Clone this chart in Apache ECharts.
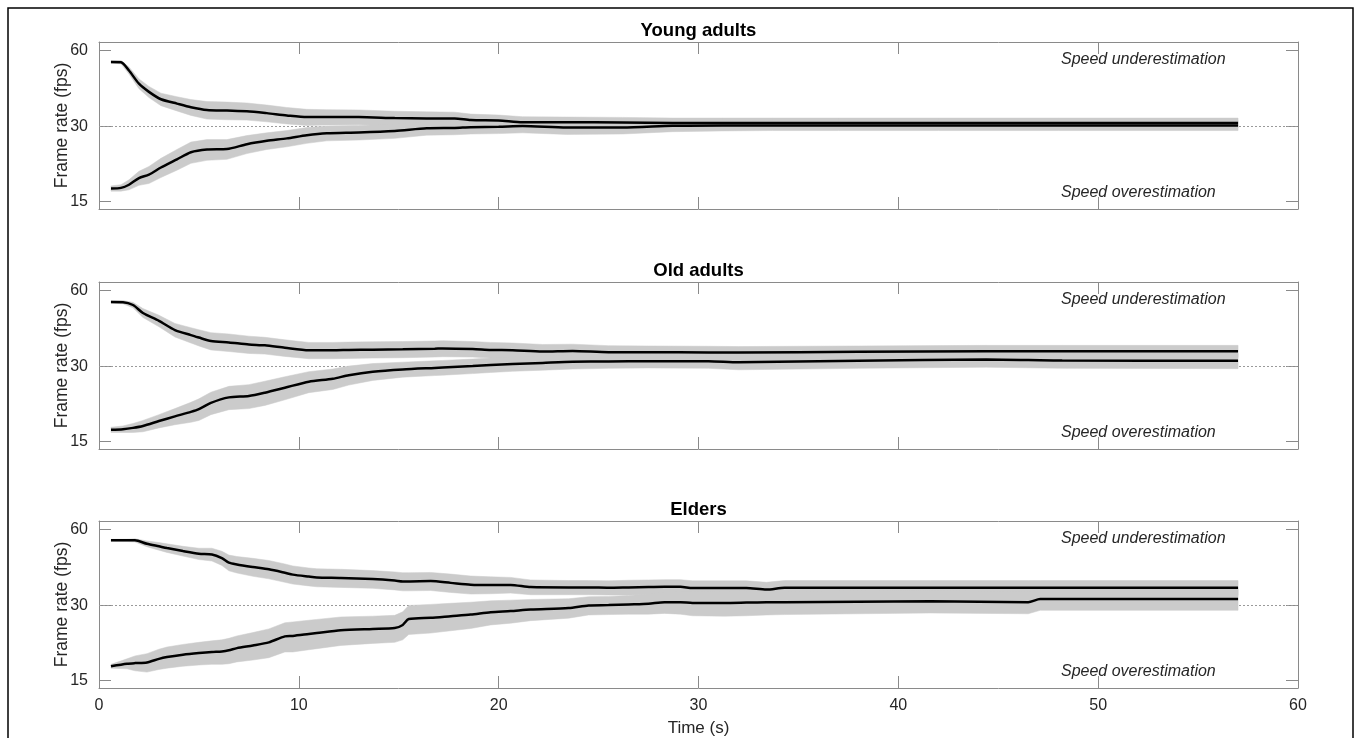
<!DOCTYPE html>
<html><head><meta charset="utf-8">
<script src="https://cdn.jsdelivr.net/npm/echarts@6/dist/echarts.min.js"></script>
<style>html,body{margin:0;padding:0;background:#fff}#c{width:1354px;height:738px}</style>
</head><body><div id="c"></div>
<script>
// ---- data ----
const panelTitles = ['Young adults', 'Old adults', 'Elders'];
const xTicks = [0, 10, 20, 30, 40, 50, 60];
const yTicks = [15, 30, 60];
const refRate = 30;

// Young adults
const timeYoung = [0.6, 1.1, 1.5, 2.0, 2.5, 3.1, 3.9, 4.6, 5.4, 6.4, 7.4, 8.4, 9.4, 10.4, 11.4, 13.0, 14.8, 16.4, 17.8, 18.6, 20.0, 21.2, 23.4, 26.2, 28.7, 31.2, 33.7, 37.0, 42.0, 48.0, 57.0];
const youngHigh = [54.1, 54.0, 50.0, 44.3, 41.1, 38.4, 36.9, 35.7, 34.8, 34.6, 34.4, 33.8, 33.1, 32.6, 32.6, 32.6, 32.3, 32.2, 32.2, 31.7, 31.6, 31.1, 31.1, 31.0, 30.9, 30.9, 30.9, 30.9, 30.9, 30.9, 30.9];
const youngHighSE = [0.6, 0.8, 1.6, 2.0, 2.1, 2.2, 2.4, 2.6, 2.8, 2.8, 2.7, 2.6, 2.5, 2.4, 2.3, 2.2, 2.1, 2.0, 1.9, 1.8, 1.6, 1.6, 1.5, 1.5, 1.4, 1.4, 1.4, 1.4, 1.4, 1.4, 1.4];
const youngLow = [16.9, 17.0, 17.5, 18.6, 19.2, 20.5, 22.1, 23.6, 24.2, 24.3, 25.4, 26.2, 26.8, 27.6, 28.1, 28.3, 28.7, 29.4, 29.5, 29.7, 29.8, 30.0, 29.6, 29.6, 30.1, 30.2, 30.2, 30.2, 30.2, 30.2, 30.2];
const youngLowSE = [0.4, 0.5, 0.8, 1.2, 1.5, 1.8, 2.1, 2.3, 2.3, 2.2, 2.1, 2.0, 2.0, 2.0, 1.9, 1.9, 1.9, 1.8, 1.8, 1.8, 1.8, 1.8, 1.8, 1.7, 1.6, 1.5, 1.4, 1.4, 1.4, 1.4, 1.4];

// Old adults
const timeOld = [0.6, 1.2, 1.7, 2.2, 3.0, 3.8, 4.6, 5.0, 5.6, 6.5, 7.5, 8.3, 9.3, 10.5, 11.7, 12.5, 13.7, 15.2, 16.8, 17.2, 18.7, 19.6, 20.7, 22.2, 23.7, 25.5, 27.5, 30.5, 32.0, 38.0, 44.4, 48.2, 57.0];
const oldHigh = [54.1, 54.0, 52.6, 48.9, 45.5, 41.8, 39.9, 39.0, 37.8, 37.3, 36.6, 36.3, 35.5, 34.7, 34.7, 34.8, 34.9, 35.0, 35.2, 35.3, 35.1, 34.8, 34.7, 34.3, 34.5, 34.1, 34.1, 34.0, 34.0, 34.2, 34.4, 34.4, 34.4];
const oldHighSE = [0.6, 0.8, 1.3, 2.0, 2.4, 2.6, 2.8, 2.9, 3.0, 3.0, 2.9, 2.8, 2.7, 2.6, 2.6, 2.6, 2.6, 2.6, 2.6, 2.6, 2.5, 2.5, 2.4, 2.3, 2.2, 2.1, 2.0, 2.0, 1.9, 1.9, 1.9, 1.9, 1.9];
const oldLow = [16.7, 16.8, 17.0, 17.3, 18.1, 18.9, 19.7, 20.2, 21.4, 22.5, 22.8, 23.5, 24.6, 26.0, 26.7, 27.6, 28.5, 29.1, 29.5, 29.6, 30.0, 30.3, 30.6, 30.9, 31.2, 31.3, 31.4, 31.4, 31.1, 31.5, 31.9, 31.6, 31.5];
const oldLowSE = [0.4, 0.5, 0.7, 0.9, 1.1, 1.4, 1.8, 2.0, 2.2, 2.4, 2.5, 2.6, 2.6, 2.5, 2.5, 2.4, 2.2, 2.0, 2.0, 2.0, 2.0, 2.0, 2.0, 2.0, 2.0, 1.9, 1.9, 2.0, 2.1, 2.1, 2.2, 2.2, 2.2];

// Elders
const timeElders = [0.6, 1.4, 1.8, 2.4, 3.0, 3.4, 4.2, 5.0, 5.65, 6.15, 6.5, 6.9, 7.7, 8.5, 9.3, 9.7, 10.5, 10.9, 12.1, 13.7, 14.8, 15.2, 15.5, 16.6, 17.6, 18.6, 19.6, 20.6, 21.6, 23.5, 24.5, 25.5, 26.5, 27.5, 28.3, 29.1, 29.7, 31.3, 32.4, 33.4, 34.3, 41.6, 46.5, 47.1, 57.0];
const eldersHigh = [54.4, 54.4, 54.4, 52.7, 51.5, 50.7, 49.3, 48.1, 47.8, 46.2, 44.3, 43.6, 42.6, 41.7, 40.4, 39.7, 39.0, 38.7, 38.5, 38.1, 37.6, 37.3, 37.3, 37.4, 36.8, 36.2, 36.1, 36.1, 35.4, 35.3, 35.3, 35.2, 35.3, 35.4, 35.5, 35.5, 35.1, 35.1, 35.1, 34.6, 35.2, 35.2, 35.2, 35.2, 35.2];
const eldersHighSE = [0.5, 0.6, 0.8, 1.4, 1.8, 2.0, 2.2, 2.5, 2.8, 3.0, 3.2, 3.3, 3.5, 3.5, 3.4, 3.3, 3.2, 3.2, 3.2, 3.1, 3.1, 3.1, 3.1, 3.1, 3.1, 3.0, 2.8, 2.6, 2.4, 2.3, 2.3, 2.3, 2.4, 2.4, 2.4, 2.4, 2.4, 2.4, 2.4, 2.4, 2.4, 2.4, 2.4, 2.4, 2.4];
const eldersLow = [17.1, 17.5, 17.6, 17.7, 18.3, 18.6, 19.0, 19.3, 19.5, 19.6, 19.8, 20.2, 20.7, 21.3, 22.5, 22.6, 23.0, 23.2, 23.8, 24.1, 24.3, 25.0, 26.4, 26.7, 27.1, 27.5, 28.1, 28.4, 28.8, 29.2, 29.9, 30.0, 30.2, 30.4, 30.8, 30.8, 30.6, 30.6, 30.7, 30.8, 30.8, 31.1, 30.8, 31.7, 31.7];
const eldersLowSE = [0.3, 0.8, 1.2, 1.5, 1.7, 1.8, 1.9, 2.0, 2.1, 2.2, 2.3, 2.4, 2.6, 2.8, 3.0, 3.1, 3.1, 3.1, 3.1, 3.0, 3.0, 3.2, 3.5, 3.5, 3.4, 3.3, 3.1, 3.0, 2.8, 2.6, 2.5, 2.5, 2.6, 2.8, 3.0, 3.2, 3.4, 3.5, 3.5, 3.4, 3.3, 3.2, 3.1, 3.1, 3.1];

const panels = [
  {t: timeYoung, hi: youngHigh, hiSE: youngHighSE, lo: youngLow, loSE: youngLowSE},
  {t: timeOld, hi: oldHigh, hiSE: oldHighSE, lo: oldLow, loSE: oldLowSE},
  {t: timeElders, hi: eldersHigh, hiSE: eldersHighSE, lo: eldersLow, loSE: eldersLowSE}
];

// ---- style ----
const FONT = '"Liberation Sans", Arial, Helvetica, sans-serif';
const axisGray = '#8a8a8a';
const textCol = '#262626';
const bandCol = '#cbcbcb';
const gridTops = [42, 282, 521];
const gridLeft = 99, gridWidth = 1199, gridHeight = 167;

const chart = echarts.init(document.getElementById('c'), null, {renderer: 'canvas'});

const grid = [], xAxis = [], yAxis = [], series = [], graphic = [];

function bandSeries(gi, t, mean, se) {
  const data = t.map((x, k) => [x, mean[k] - se[k], mean[k] + se[k]]);
  return {
    type: 'custom', xAxisIndex: gi * 2, yAxisIndex: gi * 2, z: 2, silent: true,
    data: data, encode: {x: 0, y: [1, 2]},
    renderItem: function (params, api) {
      if (params.dataIndex !== 0) return null;
      const top = data.map(d => api.coord([d[0], d[2]]));
      const bot = data.map(d => api.coord([d[0], d[1]])).reverse();
      return {
        type: 'polygon',
        shape: {points: top.concat(bot)},
        style: {fill: bandCol, stroke: bandCol, lineWidth: 0.5}
      };
    }
  };
}

panels.forEach((p, gi) => {
  grid.push({left: gridLeft, top: gridTops[gi], width: gridWidth, height: gridHeight, containLabel: false});
  ['bottom', 'top'].forEach(pos => {
    const showLabel = pos === 'bottom' && gi === 2;
    xAxis.push({
      type: 'value', gridIndex: gi, position: pos, min: 0, max: 60, interval: 10,
      axisLine: {show: true, onZero: false, lineStyle: {color: axisGray, width: 1}},
      axisTick: {show: true, inside: true, length: 12, lineStyle: {color: axisGray, width: 1}},
      axisLabel: {show: showLabel, fontSize: 16, color: textCol, margin: 10, fontFamily: FONT,
        customValues: xTicks},
      splitLine: {show: false},
      name: showLabel ? 'Time (s)' : '', nameLocation: 'middle', nameGap: 32,
      nameTextStyle: {fontSize: 17, color: textCol, fontFamily: FONT}
    });
  });
  ['left', 'right'].forEach(pos => {
    const showLabel = pos === 'left';
    yAxis.push({
      type: 'log', logBase: 2, gridIndex: gi, position: pos, min: 14, max: 65,
      axisLine: {show: true, onZero: false, lineStyle: {color: axisGray, width: 1}},
      axisTick: {show: true, inside: true, length: 12, lineStyle: {color: axisGray, width: 1},
        customValues: yTicks},
      axisLabel: {show: showLabel, fontSize: 16, color: textCol, margin: 11, fontFamily: FONT,
        customValues: yTicks},
      splitLine: {show: false}, minorTick: {show: false},
      name: showLabel ? 'Frame rate (fps)' : '', nameLocation: 'middle', nameGap: 28,
      nameMoveOverlap: false,
      nameTextStyle: {fontSize: 17.5, color: textCol, fontFamily: FONT}
    });
  });
  // reference line at 30 fps
  series.push({
    type: 'line', xAxisIndex: gi * 2, yAxisIndex: gi * 2, data: [], z: 1, silent: true,
    markLine: {silent: true, z: 1, symbol: ['none', 'none'], label: {show: false},
      lineStyle: {color: '#9a9a9a', width: 1, type: [2, 2]},
      data: [{yAxis: refRate}]}
  });
  series.push(bandSeries(gi, p.t, p.hi, p.hiSE));
  series.push(bandSeries(gi, p.t, p.lo, p.loSE));
  [p.hi, p.lo].forEach(vals => {
    series.push({
      type: 'line', xAxisIndex: gi * 2, yAxisIndex: gi * 2, z: 3, silent: true,
      data: p.t.map((x, k) => [x, vals[k]]),
      showSymbol: false, smooth: 0.25,
      lineStyle: {color: '#000', width: 2.5}
    });
  });
  const cx = gridLeft + gridWidth / 2;
  graphic.push({type: 'text', x: cx, y: gridTops[gi] - 11,
    style: {text: panelTitles[gi], fill: '#000', font: 'bold 18.5px ' + FONT, align: 'center', verticalAlign: 'middle'}});
  graphic.push({type: 'text', x: 1061, y: gridTops[gi] + 18,
    style: {text: 'Speed underestimation', fill: textCol, font: 'italic 16px ' + FONT, align: 'left', verticalAlign: 'middle'}});
  graphic.push({type: 'text', x: 1061, y: gridTops[gi] + 151,
    style: {text: 'Speed overestimation', fill: textCol, font: 'italic 16px ' + FONT, align: 'left', verticalAlign: 'middle'}});
});

graphic.push({type: 'rect', z: 100, shape: {x: 8, y: 8, width: 1345, height: 800},
  style: {fill: 'none', stroke: '#000', lineWidth: 1.5}});

chart.setOption({
  animation: false,
  backgroundColor: '#fff',
  grid: grid, xAxis: xAxis, yAxis: yAxis, series: series, graphic: graphic
});
</script></body></html>
